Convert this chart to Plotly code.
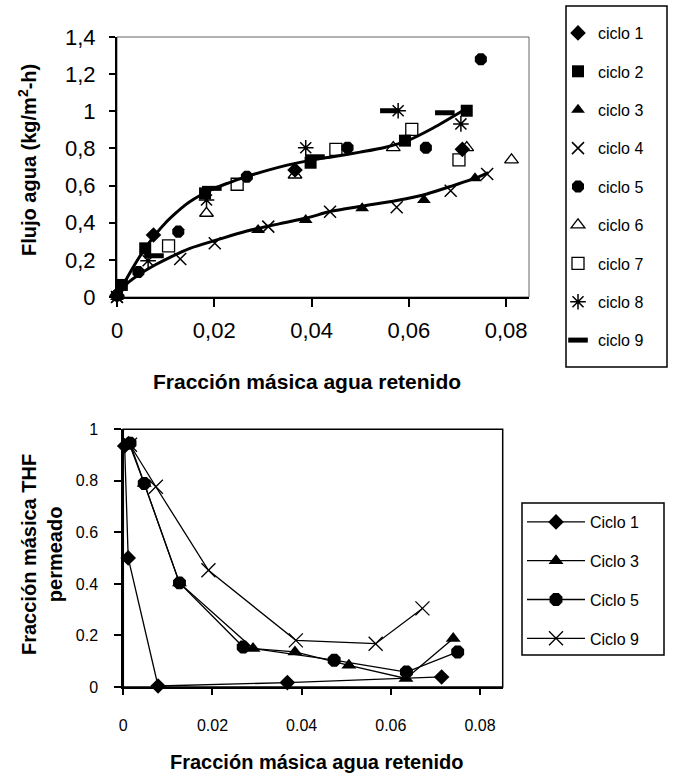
import plotly.graph_objects as go

# ---------------- Top chart data ----------------
c1_x = [0.0, 0.0075, 0.0366, 0.0710]
c1_y = [0.01, 0.334, 0.684, 0.795]
c2_x = [0.001, 0.0058, 0.0181, 0.0398, 0.0592, 0.0719]
c2_y = [0.065, 0.262, 0.558, 0.723, 0.842, 1.003]
c3_x = [0.0, 0.029, 0.0388, 0.0504, 0.0631, 0.0736]
c3_y = [0.0, 0.361, 0.415, 0.478, 0.522, 0.639]
c4_x = [0.0, 0.013, 0.0201, 0.0311, 0.0438, 0.0575, 0.0686, 0.0761]
c4_y = [0.0, 0.205, 0.289, 0.379, 0.459, 0.483, 0.572, 0.662]
c5_x = [0.0, 0.0044, 0.0126, 0.0267, 0.0474, 0.0635, 0.0748]
c5_y = [0.01, 0.134, 0.352, 0.648, 0.804, 0.804, 1.28]
c6_x = [0.0184, 0.0366, 0.0568, 0.0719, 0.0811]
c6_y = [0.451, 0.657, 0.804, 0.804, 0.738]
c7_x = [0.0106, 0.0247, 0.045, 0.0606, 0.0703]
c7_y = [0.275, 0.607, 0.795, 0.903, 0.738]
c8_x = [0.0, 0.0064, 0.0184, 0.0388, 0.0578, 0.0707]
c8_y = [0.0, 0.195, 0.522, 0.804, 1.003, 0.932]
c9_x = [0.0076, 0.0195, 0.0407, 0.0561, 0.0674]
c9_y = [0.222, 0.585, 0.755, 1.003, 0.992]

# fitted curves
up_x = [0, 0.002, 0.004, 0.006, 0.008, 0.010, 0.012, 0.014, 0.016, 0.018, 0.020,
        0.023, 0.026, 0.030, 0.035, 0.040, 0.045, 0.050, 0.055, 0.060, 0.065, 0.0709]
up_y = [0, 0.10, 0.19, 0.27, 0.34, 0.40, 0.45, 0.495, 0.53, 0.56, 0.585,
        0.615, 0.643, 0.675, 0.71, 0.737, 0.758, 0.78, 0.805, 0.845, 0.91, 1.0]
lo_x = [0, 0.002, 0.0044, 0.0078, 0.011, 0.015, 0.0205, 0.0267, 0.0335, 0.039,
        0.0438, 0.0506, 0.0575, 0.0637, 0.0691, 0.0746, 0.0763]
lo_y = [0, 0.07, 0.118, 0.172, 0.215, 0.262, 0.307, 0.355, 0.395, 0.425,
        0.46, 0.49, 0.52, 0.555, 0.6, 0.65, 0.67]

top_xticks = [0, 0.02, 0.04, 0.06, 0.08]
top_xtext = ["0", "0,02", "0,04", "0,06", "0,08"]
top_yticks = [0, 0.2, 0.4, 0.6, 0.8, 1.0, 1.2, 1.4]
top_ytext = ["0", "0,2", "0,4", "0,6", "0,8", "1", "1,2", "1,4"]

# ---------------- Bottom chart data ----------------
b1_x = [0.0003, 0.0011, 0.0078, 0.0368, 0.0714]
b1_y = [0.935, 0.501, 0.004, 0.017, 0.039]
b3_x = [0.0012, 0.0047, 0.0126, 0.0291, 0.0385, 0.0506, 0.0634, 0.074]
b3_y = [0.95, 0.79, 0.404, 0.149, 0.136, 0.084, 0.033, 0.188]
b5_x = [0.0015, 0.0047, 0.0126, 0.0269, 0.0473, 0.0635, 0.075]
b5_y = [0.946, 0.79, 0.404, 0.155, 0.104, 0.058, 0.136]
b9_x = [0.0015, 0.0073, 0.0191, 0.0387, 0.0566, 0.0671]
b9_y = [0.94, 0.777, 0.453, 0.181, 0.168, 0.305]

bot_ticks_x = [0, 0.02, 0.04, 0.06, 0.08]
bot_text_x = ["0", "0.02", "0.04", "0.06", "0.08"]
bot_ticks_y = [0, 0.2, 0.4, 0.6, 0.8, 1]
bot_text_y = ["0", "0.2", "0.4", "0.6", "0.8", "1"]

FONT = "Liberation Sans, Arial, sans-serif"
fig = go.Figure()

# curves
for cx, cy in [(up_x, up_y), (lo_x, lo_y)]:
    fig.add_trace(go.Scatter(x=cx, y=cy, mode="lines", line=dict(color="black", width=3, shape="spline", smoothing=0.8),
                             showlegend=False, hoverinfo="skip", xaxis="x", yaxis="y"))

top_series = [
    ("ciclo 1", c1_x, c1_y, dict(symbol="diamond", size=12, color="black")),
    ("ciclo 2", c2_x, c2_y, dict(symbol="square", size=12, color="black")),
    ("ciclo 3", c3_x, c3_y, dict(symbol="triangle-up", size=12, color="black")),
    ("ciclo 4", c4_x, c4_y, dict(symbol="x-thin-open", size=12, color="black", line=dict(width=1.5, color="black"))),
    ("ciclo 5", c5_x, c5_y, dict(symbol="octagon", size=13, color="black")),
    ("ciclo 6", c6_x, c6_y, dict(symbol="triangle-up-open", size=12, color="black", line=dict(width=1.3, color="black"))),
    ("ciclo 7", c7_x, c7_y, dict(symbol="square-open", size=12, color="black", line=dict(width=1.3, color="black"))),
    ("ciclo 8", c8_x, c8_y, dict(symbol="asterisk-open", size=13, color="black", line=dict(width=1.5, color="black"))),
    ("ciclo 9", c9_x, c9_y, dict(symbol="line-ew-open", size=14, color="black", line=dict(width=5, color="black"))),
]
for i, (name, sx, sy, mk) in enumerate(top_series):
    fig.add_trace(go.Scatter(x=sx, y=sy, mode="markers", name=name, marker=mk, cliponaxis=False,
                             legend="legend", legendgroup="t%d" % i, xaxis="x", yaxis="y"))

bot_series = [
    ("Ciclo 1", b1_x, b1_y, dict(symbol="diamond", size=12, color="black")),
    ("Ciclo 3", b3_x, b3_y, dict(symbol="triangle-up", size=13, color="black")),
    ("Ciclo 5", b5_x, b5_y, dict(symbol="octagon", size=14, color="black")),
    ("Ciclo 9", b9_x, b9_y, dict(symbol="x-thin-open", size=14, color="black", line=dict(width=1.3, color="black"))),
]
for i, (name, sx, sy, mk) in enumerate(bot_series):
    fig.add_trace(go.Scatter(x=sx, y=sy, mode="lines+markers", name=name, marker=mk, cliponaxis=False,
                             line=dict(color="black", width=1.3),
                             legend="legend2", legendgroup="b%d" % i, xaxis="x2", yaxis="y2"))

W, H = 675, 773
def px(v): return v / W
def py(v): return 1 - v / H

axis_common = dict(showgrid=False, zeroline=False, showline=True, linecolor="black",
                   ticks="outside", tickcolor="black", automargin=False)

fig.update_layout(
    width=W, height=H, margin=dict(l=0, r=0, t=0, b=0, autoexpand=False),
    paper_bgcolor="white", plot_bgcolor="white",
    font=dict(family=FONT, color="black"),
    xaxis=dict(**axis_common, domain=[px(117), px(529)], range=[0, 0.0847], anchor="y",
               tickvals=top_xticks, ticktext=top_xtext, ticklen=8, tickwidth=1.5, linewidth=2,
               tickfont=dict(size=22), ticklabelstandoff=5),
    yaxis=dict(**axis_common, domain=[py(297), py(37)], range=[0, 1.4], anchor="x",
               tickvals=top_yticks, ticktext=top_ytext, ticklen=6, tickwidth=1.5, linewidth=2,
               tickfont=dict(size=22), ticklabelstandoff=9),
    xaxis2=dict(**axis_common, domain=[px(123.3), px(502.7)], range=[0, 0.0851], anchor="y2",
                tickvals=bot_ticks_x, ticktext=bot_text_x, ticklen=6, tickwidth=1.5, linewidth=2,
                tickfont=dict(size=16), ticklabelstandoff=17),
    yaxis2=dict(**axis_common, domain=[py(687), py(429.3)], range=[0, 1], anchor="x2",
                tickvals=bot_ticks_y, ticktext=bot_text_y, ticklen=7, tickwidth=1.5, linewidth=2,
                tickfont=dict(size=16), ticklabelstandoff=13),
    legend=dict(x=px(558), y=py(16), xref="container", yref="container", xanchor="left", yanchor="top",
                borderwidth=0, font=dict(size=16), tracegroupgap=14.6, traceorder="grouped",
                bgcolor="rgba(0,0,0,0)"),
    legend2=dict(x=px(522), y=py(505), xref="container", yref="container", xanchor="left", yanchor="top",
                 borderwidth=0, font=dict(size=16), tracegroupgap=15, traceorder="grouped",
                 bgcolor="rgba(0,0,0,0)", itemwidth=58),
    shapes=[
        dict(type="rect", xref="x domain", yref="y domain", x0=0, x1=1, y0=0, y1=1,
             line=dict(color="#666", width=1), layer="below"),
        dict(type="rect", xref="x2 domain", yref="y2 domain", x0=0, x1=1, y0=0, y1=1,
             line=dict(color="black", width=1.5), layer="below"),
        dict(type="rect", xref="paper", yref="paper", x0=px(566), x1=px(667), y0=py(367), y1=py(6),
             line=dict(color="black", width=1.5), layer="below"),
        dict(type="rect", xref="paper", yref="paper", x0=px(522), x1=px(664), y0=py(655), y1=py(503),
             line=dict(color="black", width=1.5), layer="below"),
    ],
    annotations=[
        dict(text="<b>Fracción másica agua retenido</b>", x=px(307), y=py(382), xref="paper", yref="paper",
             showarrow=False, font=dict(size=21), xanchor="center", yanchor="middle"),
        dict(text="<b>Flujo agua (kg/m<sup>2</sup>-h)</b>", x=px(27), y=py(160), xref="paper", yref="paper",
             showarrow=False, font=dict(size=20), textangle=-90, xanchor="center", yanchor="middle"),
        dict(text="<b>Fracción másica agua retenido</b>", x=px(316), y=py(762), xref="paper", yref="paper",
             showarrow=False, font=dict(size=20), xanchor="center", yanchor="middle"),
        dict(text="<b>Fracción másica THF<br>permeado</b>", x=px(42), y=py(555), xref="paper", yref="paper",
             showarrow=False, font=dict(size=20), textangle=-90, xanchor="center", yanchor="middle"),
    ],
)

fig.write_html("out.html", config={"displayModeBar": False},
               post_script="document.body.style.margin='0px';")
